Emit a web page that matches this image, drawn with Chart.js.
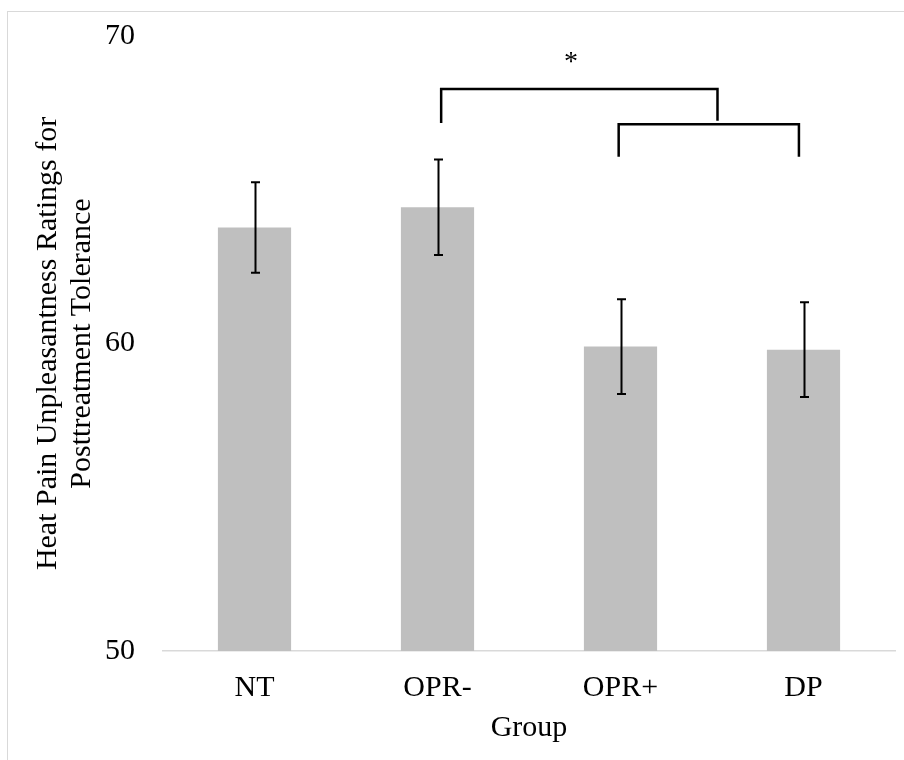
<!DOCTYPE html>
<html>
<head>
<meta charset="utf-8">
<script src="https://cdn.jsdelivr.net/npm/chart.js@4/dist/chart.umd.min.js"></script>
<style>
  html, body { margin: 0; padding: 0; background: #fff; overflow: hidden; }
  #wrap { position: relative; width: 904px; height: 760px; }
  #frame { position: absolute; left: 7px; top: 11px; width: 920px; height: 780px; border: 1.5px solid #d9d9d9; }
  canvas { position: absolute; left: 0; top: 0; }
</style>
</head>
<body>
<div id="wrap">
  <div id="frame"></div>
  <canvas id="chart" width="904" height="760"></canvas>
</div>
<script>
// ---- data --------------------------------------------------------------
const groups   = ['NT', 'OPR-', 'OPR+', 'DP'];
const means    = [63.77, 64.43, 59.90, 59.80];
const sem      = [1.47, 1.55, 1.54, 1.54];
const yTicks   = [50, 60, 70];

// significance brackets, in category-index / value units
const bracketX1   = [1.02, 1.99];
const bracketX2   = [2.53, 2.975];
const bracketTop  = [68.28, 67.13];
const bracketLegL = [67.17, 66.07];
const bracketLegR = [67.24, 66.07];
const starPos     = [1.73, 69.3];

const FONT = "'Liberation Serif', 'Times New Roman', serif";

// ---- error bars + brackets ----------------------------------------------
const overlays = {
  id: 'overlays',
  afterDatasetsDraw(chart){
    const ctx = chart.ctx;
    const xs = chart.scales.x, ys = chart.scales.y;
    const meta = chart.getDatasetMeta(0);
    ctx.save();
    ctx.strokeStyle = '#000';
    ctx.lineWidth = 2;
    meta.data.forEach((bar, i) => {
      const top = ys.getPixelForValue(means[i] + sem[i]);
      const bot = ys.getPixelForValue(means[i] - sem[i]);
      const x = Math.round(bar.x) + 0.5;
      ctx.beginPath();
      ctx.moveTo(x, top); ctx.lineTo(x, bot);
      ctx.moveTo(x - 4.5, top); ctx.lineTo(x + 4.5, top);
      ctx.moveTo(x - 4.5, bot); ctx.lineTo(x + 4.5, bot);
      ctx.stroke();
    });

    ctx.lineWidth = 2.5;
    bracketX1.forEach((_, i) => {
      const xa = xs.getPixelForValue(bracketX1[i]);
      const xb = xs.getPixelForValue(bracketX2[i]);
      const yt = ys.getPixelForValue(bracketTop[i]);
      ctx.beginPath();
      ctx.moveTo(xa, ys.getPixelForValue(bracketLegL[i]));
      ctx.lineTo(xa, yt);
      ctx.lineTo(xb, yt);
      ctx.lineTo(xb, ys.getPixelForValue(bracketLegR[i]));
      ctx.stroke();
    });

    ctx.fillStyle = '#000';
    ctx.font = '28px ' + FONT;
    ctx.textAlign = 'center';
    ctx.textBaseline = 'middle';
    ctx.fillText('*', xs.getPixelForValue(starPos[0]), ys.getPixelForValue(starPos[1]) + 5);
    ctx.restore();
  }
};

new Chart(document.getElementById('chart'), {
  type: 'bar',
  data: {
    labels: groups,
    datasets: [{
      data: means,
      backgroundColor: '#bfbfbf',
      borderWidth: 0,
      barPercentage: 0.4,
      categoryPercentage: 1.0,
    }]
  },
  options: {
    responsive: false,
    animation: false,
    layout: { padding: { left: 0, right: 9, top: 36, bottom: 0 } },
    plugins: { legend: { display: false }, tooltip: { enabled: false } },
    scales: {
      x: {
        grid: { display: false, drawTicks: false },
        border: { display: true, color: '#d9d9d9', width: 1.5 },
        ticks: { color: '#000', padding: 19, font: { family: FONT, size: 30, lineHeight: 1.2 } },
        title: {
          display: true, text: 'Group', color: '#000',
          font: { family: FONT, size: 30, lineHeight: 1.2 },
          padding: { top: 0, bottom: 14 },
        },
        afterFit: s => { s.height = 109; s.paddingLeft = 0; s.paddingRight = 0; },
      },
      y: {
        min: 50, max: 70,
        afterBuildTicks: s => { s.ticks = yTicks.map(v => ({ value: v })); },
        grid: { display: false, drawTicks: false },
        border: { display: false },
        ticks: { color: '#000', padding: 28, font: { family: FONT, size: 30 } },
        title: {
          display: true,
          text: ['Heat Pain Unpleasantness Ratings for', 'Posttreatment Tolerance'],
          color: '#000',
          font: { family: FONT, size: 30, lineHeight: 1.133 },
          padding: { top: 31, bottom: 0 },
        },
        afterFit: s => { s.width = 163; s.paddingTop = 0; s.paddingBottom = 0; },
      },
    },
  },
  plugins: [overlays],
});
</script>
</body>
</html>
